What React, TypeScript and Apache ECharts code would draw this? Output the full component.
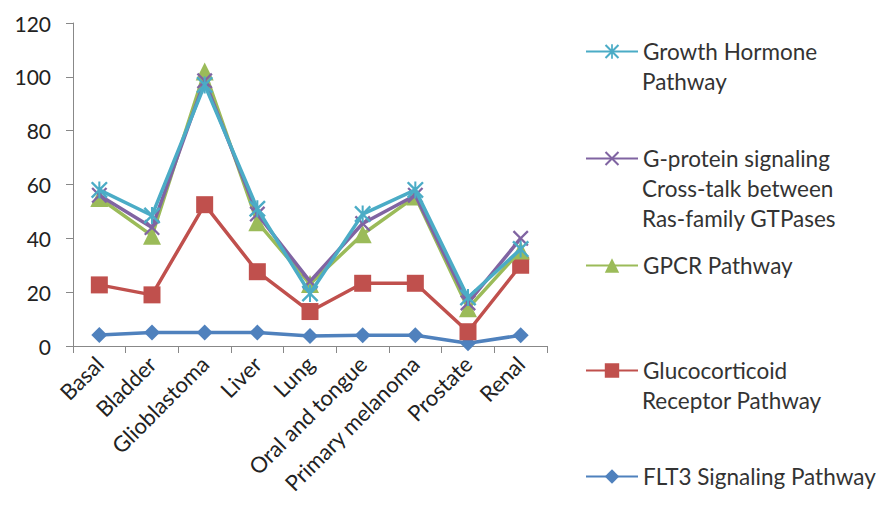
import React, { useEffect, useRef } from "react";
import * as echarts from "echarts";

const categories = ["Basal", "Bladder", "Glioblastoma", "Liver", "Lung", "Oral and tongue", "Primary melanoma", "Prostate", "Renal"];
const growthHormone = [58, 48.5, 97, 51, 19.5, 49, 58, 18, 36];
const gProtein = [56, 44, 98.5, 49, 24, 45.5, 56, 16, 40];
const gpcr = [55, 41, 102, 46, 23, 41.5, 55.5, 14, 35.5];
const glucocorticoid = [22.7, 19, 52.5, 27.6, 12.8, 23.3, 23.3, 5.3, 30];
const flt3 = [4.1, 5, 5, 5, 3.7, 4, 4, 1, 4];

const seriesNames = [
  "Growth Hormone Pathway",
  "G-protein signaling Cross-talk between Ras-family GTPases",
  "GPCR Pathway",
  "Glucocorticoid Receptor Pathway",
  "FLT3 Signaling Pathway",
];
const legendLines = [
  ["Growth Hormone", "Pathway"],
  ["G-protein signaling", "Cross-talk between", "Ras-family GTPases"],
  ["GPCR Pathway"],
  ["Glucocorticoid", "Receptor Pathway"],
  ["FLT3 Signaling Pathway"],
];
const legendCenters = [54, 161, 268, 373, 479];
const colors = ["#4BACC6", "#8064A2", "#9BBB59", "#C0504D", "#4F81BD"];

const STAR = "path://M0,1L1,0L10,9L9,10ZM9,0L10,1L1,10L0,9ZM4.4,0L5.6,0L5.6,10L4.4,10Z";
const XMARK = "path://M0,1L1,0L10,9L9,10ZM9,0L10,1L1,10L0,9Z";

const FONT = "Lato, 'Open Sans', sans-serif";
const LEG_FS = 22.5;

export default function App() {
  const ref = useRef<HTMLDivElement>(null);
  useEffect(() => {
    if (!ref.current) return;
    const chart = echarts.init(ref.current, null, { renderer: "svg" });
    const dataSets = [growthHormone, gProtein, gpcr, glucocorticoid, flt3];
    const symbols = [STAR, XMARK, "triangle", "rect", "diamond"];
    const sizes = [17, 16, 18, 17, 16];
    const series: any[] = [];
    for (let i = 4; i >= 0; i--) {
      series.push({
        type: "line",
        name: seriesNames[i],
        data: dataSets[i],
        symbol: symbols[i],
        symbolSize: sizes[i],
        showAllSymbol: true,
        lineStyle: { color: colors[i], width: 3.5 },
        itemStyle: { color: colors[i] },
        z: 2 + (4 - i),
      });
    }
    const legends = seriesNames.map((n, i) => ({
      data: [n],
      left: 585,
      top: legendCenters[i] - 14,
      padding: 0,
      itemWidth: 52,
      itemHeight: 18,
      itemGap: 0,
      selectedMode: false,
      formatter: () => legendLines[i][0],
      textStyle: { fontFamily: FONT, fontSize: LEG_FS, color: "#333" },
    }));
    const graphics: any[] = [];
    legendLines.forEach((lines, i) => {
      lines.slice(1).forEach((t, j) => {
        graphics.push({
          type: "text",
          left: 642,
          top: legendCenters[i] + 30 * (j + 1) - 14,
          style: { text: t, fontFamily: FONT, fontSize: LEG_FS, fill: "#333" },
        });
      });
    });
    chart.setOption({
      animation: false,
      backgroundColor: "#fff",
      grid: { left: 73, right: 333, top: 23, bottom: 170, containLabel: false, outerBoundsMode: "none" },
      legend: legends,
      graphic: graphics,
      xAxis: {
        type: "category",
        data: categories,
        boundaryGap: true,
        axisLine: { lineStyle: { color: "#888", width: 1 } },
        axisTick: { show: true, length: 7, lineStyle: { color: "#888" } },
        axisLabel: { interval: 0, rotate: 45, fontFamily: FONT, fontSize: 22, color: "#222", margin: 14 },
      },
      yAxis: {
        type: "value",
        min: 0,
        max: 120,
        interval: 20,
        splitLine: { show: false },
        axisLine: { show: true, lineStyle: { color: "#888", width: 1 } },
        axisTick: { show: true, length: 7, lineStyle: { color: "#888" } },
        axisLabel: { fontFamily: FONT, fontSize: 21, color: "#222", margin: 22 },
      },
      series,
    });
    return () => chart.dispose();
  }, []);
  return <div ref={ref} style={{ position: "fixed", left: 0, top: 0, width: 880, height: 516 }} />;
}
